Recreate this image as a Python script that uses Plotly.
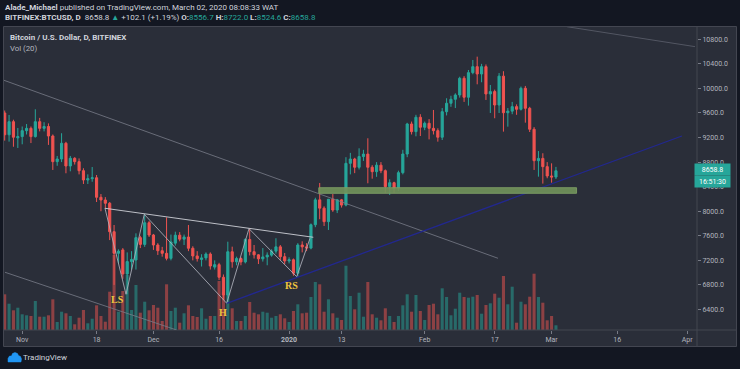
import pandas as pd
import plotly.graph_objects as go

# ---------------- data ----------------
first_day, last_day = "2019-10-28", "2020-03-02"

opens = [9600, 9245, 9458, 9195,
         9215, 9312, 9350, 9215, 9458, 9350, 9380, 9225, 8807, 8850, 9107, 8737, 8862, 8807, 8660, 8509,
         8530, 8545, 8227, 8183, 8130, 7667, 7315, 7370, 6979, 7180, 7206, 7570, 7460, 7813,
         7613, 7450, 7357, 7315, 7233, 7480, 7610, 7545, 7580, 7397, 7272, 7215, 7240, 7303, 7090, 7130,
         6925, 6636, 7340, 7177, 7230, 7175, 7540, 7341, 7290, 7225, 7256, 7285, 7350, 7420, 7260,
         7190, 7210, 6990, 7450, 7420, 7400, 7780, 8185, 8050, 7830, 8195, 8020, 8185, 8100, 8780,
         8850, 8716, 8890, 8930, 8716, 8644, 8750, 8660, 8400, 8465, 8374, 8628, 8932, 9421, 9296, 9530,
         9367, 9432, 9350, 9312, 9205, 9621, 9758, 9823, 9893, 10165, 9856, 10257, 10354, 10235, 10354,
         9910, 9948, 9730, 10200, 9604, 9630, 9703, 9660, 10002, 9676, 9335, 8823, 8860, 8726,
         8574, 8556.7]
highs = [9640, 9567, 9490, 9356,
         9380, 9420, 9380, 9660, 9520, 9450, 9430, 9250, 8900, 9270, 9130, 8900, 8880, 8860, 8700, 8600,
         8720, 8590, 8280, 8230, 8150, 7776, 7380, 7400, 7330, 7350, 7640, 7600, 7950, 7840,
         7630, 7480, 7420, 7900, 7620, 7667, 7660, 7620, 7776, 7430, 7350, 7300, 7330, 7330, 7200, 7160,
         6970, 7504, 7423, 7260, 7250, 7560, 7716, 7450, 7300, 7400, 7330, 7380, 7560, 7450, 7320,
         7250, 7230, 7480, 7510, 7480, 7800, 8220, 8460, 8080, 8200, 8280, 8200, 8200, 8880, 8950,
         8870, 9025, 9000, 9188, 8750, 8800, 8800, 8680, 8520, 8480, 8660, 9000, 9440, 9460, 9570, 9580,
         9460, 9500, 9649, 9350, 9680, 9840, 9880, 9920, 10190, 10200, 10300, 10463, 10517, 10400, 10390,
         10056, 9980, 10250, 10280, 9680, 9780, 9740, 10030, 10040, 9700, 9370, 8980, 8944, 8800,
         8780, 8722.0]
lows = [9150, 9133, 9050, 9030,
        9090, 9250, 9110, 9200, 9300, 9300, 9080, 8672, 8740, 8800, 8618, 8650, 8760, 8600, 8444, 8444,
        8480, 8150, 8000, 8050, 7530, 6800, 7150, 6900, 6648, 7050, 7050, 7400, 7420, 7580,
        7370, 7288, 7260, 7200, 7200, 7440, 7510, 7450, 7350, 7200, 7180, 7100, 7200, 7050, 7050, 6880,
        6555, 6501, 7080, 7120, 7120, 7150, 7280, 7230, 7140, 7180, 7120, 7260, 7310, 7200, 7140,
        7150, 6950, 6934, 7330, 7350, 7380, 7740, 7870, 7760, 7695, 7990, 7970, 8060, 8080, 8600,
        8620, 8680, 8820, 8455, 8530, 8560, 8620, 8300, 8265, 8300, 8330, 8600, 8880, 9250, 9220, 9225,
        9320, 9170, 9250, 9133, 9160, 9560, 9700, 9680, 9850, 9780, 9720, 10230, 10067, 10100, 9812,
        9600, 9514, 9600, 9296, 9377, 9580, 9570, 9640, 9442, 9290, 8672, 8563, 8450, 8537,
        8465, 8524.6]
closes = [9245, 9458, 9205, 9215,
          9312, 9350, 9215, 9458, 9350, 9380, 9225, 8807, 8850, 9107, 8737, 8862, 8807, 8660, 8509, 8530,
          8545, 8227, 8183, 8130, 7667, 7315, 7350, 6979, 7180, 7215, 7570, 7460, 7813, 7613,
          7450, 7357, 7315, 7233, 7500, 7610, 7545, 7580, 7397, 7272, 7228, 7240, 7303, 7108, 7130, 6925,
          6636, 7340, 7177, 7230, 7175, 7540, 7341, 7290, 7225, 7256, 7285, 7350, 7420, 7260, 7190,
          7210, 6990, 7450, 7420, 7400, 7780, 8185, 8050, 7830, 8195, 8020, 8185, 8100, 8780, 8850,
          8716, 8890, 8930, 8716, 8644, 8750, 8660, 8400, 8465, 8374, 8628, 8932, 9421, 9296, 9530, 9367,
          9432, 9350, 9312, 9205, 9621, 9758, 9823, 9893, 10165, 9856, 10257, 10354, 10235, 10354, 9910,
          9948, 9730, 10200, 9604, 9630, 9703, 9660, 10002, 9676, 9335, 8823, 8860, 8726, 8574,
          8556.7, 8658.8]
volume = [35.7, 26.3, 19.7, 22.3,
          15.7, 14.7, 14, 29, 13.3, 13.3, 14.7, 30.7, 8, 18.3, 16.7, 14, 5.7, 12.3, 20, 6.7,
          11.3, 24.7, 14, 8.3, 38.3, 75, 18.3, 39, 55, 20, 45, 17.3, 28.3, 19.7,
          25, 22.3, 9, 45.7, 19, 22.3, 7.3, 16.7, 24.7, 14, 13, 21.7, 11.3, 14, 14, 49,
          38, 40, 21.7, 9, 9, 14, 28, 17.3, 15.7, 18.3, 17.3, 12.3, 14, 15.7, 11.7,
          8, 19, 25.7, 16.7, 17.3, 33, 48, 45.7, 18.3, 30.7, 16.7, 12.3, 10, 64.3, 34,
          20.7, 37.3, 13.3, 48, 15.7, 12.3, 9.7, 21.7, 14, 8, 14, 24.7, 35.7, 18.3, 35, 19,
          10, 25, 26.3, 15.7, 41.7, 33, 14.7, 21.3, 37.3, 33, 32.3, 33.3, 35, 16.3, 25,
          26.7, 36.3, 32.3, 54, 25.7, 43.3, 7.3, 28.3, 25.7, 33.3, 56.3, 33, 27.3, 9.7,
          14, 4.7]

price_ticks = [6400, 6800, 7200, 7600, 8000, 8400, 8800, 9200, 9600, 10000, 10400, 10800]
x_tick_dates = ["2019-11-01", "2019-11-18", "2019-12-01", "2019-12-16", "2020-01-01", "2020-01-13",
                "2020-02-01", "2020-02-17", "2020-03-01", "2020-03-16", "2020-04-01"]
x_tick_text = ["Nov", "18", "Dec", "16", "<b>2020</b>", "13", "Feb", "17", "Mar", "16", "Apr"]

# drawings (anchor points)
hs_dates = ["2019-11-19 22:00", "2019-11-24 17:30", "2019-11-28 21:40", "2019-12-17 18:00",
            "2019-12-22 20:00", "2020-01-02 17:45", "2020-01-05 19:00"]
hs_prices = [8050, 6648, 7950, 6501, 7716, 6934, 7560]
neck_dates, neck_prices = ["2019-11-19 22:00", "2020-01-06 13:00"], [8048, 7576]
upper_tl_dates, upper_tl_prices = ["2019-10-27 20:10", "2020-02-17 18:00"], [10132, 7234]
lower_tl_dates, lower_tl_prices = ["2019-10-28 01:40", "2019-12-06 07:00"], [7006, 6066]
far_tl_dates, far_tl_prices = ["2020-03-04 12:00", "2020-04-02 19:00"], [11005, 10680]
blue_tl_dates, blue_tl_prices = ["2019-12-17 18:00", "2020-03-30 19:00"], [6501, 9225]
zone_dates, zone_prices = ["2020-01-07 19:00", "2020-03-06 17:00"], [8292, 8383]
last_price, last_timer = 8658.8, "16:51:30"

# ---------------- style ----------------
W, H = 740, 369
ML, MR, MT, MB = 4, 43, 27, 39
PW, PH = W - ML - MR, H - MT - MB
BG, PANE = "#131722", "#2a2e39"
UP, DN = "#26a69a", "#ef5350"
UPV, DNV = "rgba(38,166,154,0.5)", "rgba(239,83,80,0.5)"
TXT = "#b2b5be"
FONT = "Roboto"


def px(x):
    return (x - ML) / PW


def py(y):
    return (H - MB - y) / PH


dates = pd.date_range(first_day, last_day, freq="D")
vol_colors = [UPV if c >= o else DNV for o, c in zip(opens, closes)]

fig = go.Figure()
fig.add_trace(go.Bar(x=dates, y=volume, marker_color=vol_colors, marker_line_width=0,
                     width=0.7 * 86400000, yaxis="y", hoverinfo="skip"))
fig.add_trace(go.Candlestick(x=dates, open=opens, high=highs, low=lows, close=closes, yaxis="y2",
                             increasing=dict(line=dict(color=UP, width=1), fillcolor=UP),
                             decreasing=dict(line=dict(color=DN, width=1), fillcolor=DN),
                             whiskerwidth=0, hoverinfo="skip"))
fig.add_trace(go.Scatter(x=hs_dates, y=hs_prices, yaxis="y2", mode="lines",
                         line=dict(color="rgba(175,178,188,0.85)", width=1), hoverinfo="skip"))

shapes = []
# frame / pane background
shapes.append(dict(type="rect", xref="paper", yref="paper", layer="below",
                   x0=px(3.5), x1=px(736.5), y0=py(346.5), y1=py(26.5),
                   fillcolor=PANE, line=dict(color="#434651", width=1)))
shapes.append(dict(type="line", xref="paper", yref="paper", x0=1, x1=1, y0=py(346.5), y1=1,
                   line=dict(color="#434651", width=1)))
shapes.append(dict(type="line", xref="paper", yref="paper", x0=px(3.5), x1=px(736.5), y0=0, y1=0,
                   line=dict(color="#434651", width=1)))


def seg(xs, ys, color, width=1):
    return dict(type="line", xref="x", yref="y2", x0=xs[0], x1=xs[1], y0=ys[0], y1=ys[1],
                line=dict(color=color, width=width))


shapes.append(seg(upper_tl_dates, upper_tl_prices, "rgba(120,124,136,0.8)"))
shapes.append(seg(lower_tl_dates, lower_tl_prices, "rgba(120,124,136,0.8)"))
shapes.append(seg(far_tl_dates, far_tl_prices, "rgba(110,114,126,0.6)"))
shapes.append(seg(neck_dates, neck_prices, "rgba(205,207,214,0.9)"))
shapes.append(seg(blue_tl_dates, blue_tl_prices, "#22288f", 1.3))
shapes.append(dict(type="rect", xref="x", yref="y2", x0=zone_dates[0], x1=zone_dates[1],
                   y0=zone_prices[0], y1=zone_prices[1], fillcolor="rgba(112,145,90,0.92)",
                   line=dict(color="rgba(125,158,100,0.9)", width=1)))
# last-price tick
shapes.append(dict(type="line", xref="paper", yref="y2", x0=1, x1=px(700), y0=last_price, y1=last_price,
                   line=dict(color="#ffffff", width=1)))
# TradingView logo
logo = [(8, 362), (8, 358.5), (9.5, 356), (11.5, 356), (12.5, 353.5), (15, 352.5), (17.5, 353.5),
        (18.5, 355.5), (20.5, 356.5), (21.5, 359), (21, 362)]
path = "M " + " L ".join(f"{px(a):.5f},{py(b):.5f}" for a, b in logo) + " Z"
shapes.append(dict(type="path", xref="paper", yref="paper", path=path, fillcolor="#2196f3",
                   line=dict(color="#2196f3", width=0.5)))

ann = []


def txt(x, y, text, size=8, color="#d1d4dc", anchor="left", family=FONT):
    ann.append(dict(xref="paper", yref="paper", x=px(x), y=py(y), text=text, showarrow=False,
                    xanchor=anchor, yanchor="middle", font=dict(size=size, color=color, family=family)))


txt(3, 7, "<b>Alade_Michael</b> published on TradingView.com, March 02, 2020 08:08:33 WAT")
g = "<span style='color:#26a69a'>%s</span>"
txt(3, 17, "<b>BITFINEX:BTCUSD, D</b>  8658.8 " + g % "▲" + " +102.1 (+1.19%) <b>O:</b>" + g % "8556.7"
    + " <b>H:</b>" + g % "8722.0" + " <b>L:</b>" + g % "8524.6" + " <b>C:</b>" + g % "8658.8")
txt(8, 37.5, "<b>Bitcoin / U.S. Dollar, D, BITFINEX</b>", size=8)
txt(8, 48.5, "Vol (20)", size=7.8, color=TXT)
txt(21, 357.5, "TradingView", size=8)

for label, d, p in [("LS", "2019-11-22 17:00", 6555), ("H", "2019-12-16 21:40", 6359),
                    ("RS", "2020-01-01 14:24", 6783)]:
    ann.append(dict(xref="x", yref="y2", x=d, y=p, text="<b>%s</b>" % label, showarrow=False,
                    font=dict(size=10, color="#efc53f", family="Liberation Serif")))

for text, yc in [("%.1f" % last_price, 169.6), (last_timer, 181.7)]:
    ann.append(dict(xref="paper", yref="paper", x=px(712.5), y=py(yc), text=text, showarrow=False,
                    xanchor="center", yanchor="middle", bgcolor=UP, width=33, height=9, borderpad=1,
                    font=dict(size=7, color="#ffffff", family=FONT)))

fig.update_layout(
    width=W, height=H, margin=dict(l=ML, r=MR, t=MT, b=MB, pad=0),
    paper_bgcolor=BG, plot_bgcolor=PANE, showlegend=False,
    font=dict(family=FONT, color=TXT),
    shapes=shapes, annotations=ann,
    xaxis=dict(type="date", range=["2019-10-27 20:10", "2020-04-03 05:45"],
               tickvals=x_tick_dates, ticktext=x_tick_text, ticks="outside", ticklen=3,
               tickcolor="#787b86", tickfont=dict(size=7, color=TXT), showgrid=False,
               showline=False, zeroline=False, rangeslider=dict(visible=False), fixedrange=True),
    yaxis=dict(range=[0, PH], visible=False, fixedrange=True),
    yaxis2=dict(overlaying="y", side="right", range=[6066, 11000], tickvals=price_ticks,
                tickformat=".1f", ticks="outside", ticklen=3, tickcolor="#787b86",
                tickfont=dict(size=7, color=TXT), showgrid=False, showline=False, zeroline=False,
                fixedrange=True),
)

fig.write_html("out.html", config={"displayModeBar": False},
               post_script="document.body.style.margin='0px';document.body.style.background='#131722';")
